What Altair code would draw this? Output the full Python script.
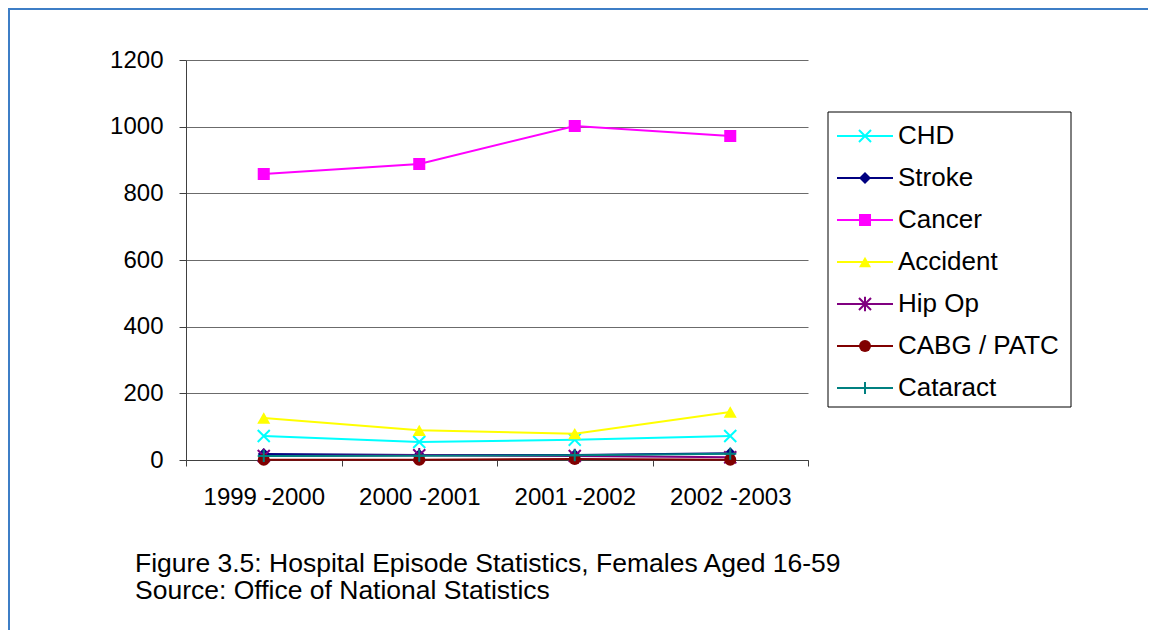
import altair as alt
import pandas as pd

# ---- data ----
periods = ["1999 -2000", "2000 -2001", "2001 -2002", "2002 -2003"]
series = ["CHD", "Stroke", "Cancer", "Accident", "Hip Op", "CABG / PATC", "Cataract"]
chd = [72, 54, 61, 72]
stroke = [18, 15, 15, 20]
cancer = [858, 888, 1002, 972]
accident = [126, 89, 79, 144]
hip_op = [12, 14, 12, 8]
cabg = [1, 1, 3, 1]
cataract = [12, 13, 14, 19]
y_ticks = [0, 200, 400, 600, 800, 1000, 1200]
caption_lines = [
    "Figure 3.5: Hospital Episode Statistics, Females Aged 16-59",
    "Source: Office of National Statistics",
]

# ---- styles ----
colors = ["#00FFFF", "#000080", "#FF00FF", "#FFFF00", "#800080", "#800000", "#008080"]
shapes = [
    "M-1,-1L1,1M-1,1L1,-1",                 # x
    "diamond",
    "square",
    "triangle-up",
    "M-1,-1L1,1M-1,1L1,-1M0,-1.2L0,1.2",    # asterisk
    "circle",
    "M-1,0L1,0M0,-1L0,1",                   # plus
]
filled_series = {"Stroke", "Cancer", "Accident", "CABG / PATC"}
FONT = "Liberation Sans"

values = [chd, stroke, cancer, accident, hip_op, cabg, cataract]
rows = []
for s, vals in zip(series, values):
    for p, v in zip(periods, vals):
        rows.append({"series": s, "period": p, "value": v})
df = pd.DataFrame(rows)

color_enc = alt.Color("series:N", scale=alt.Scale(domain=series, range=colors), legend=None)
shape_enc = alt.Shape("series:N", scale=alt.Scale(domain=series, range=shapes), legend=None)

x_enc = alt.X(
    "period:N", sort=periods,
    scale=alt.Scale(type="band", paddingInner=0, paddingOuter=0),
    axis=alt.Axis(title=None, labelAngle=0, tickBand="extent", tickSize=6,
                  labelFontSize=24, labelFont=FONT, labelColor="black",
                  labelBaseline="alphabetic", labelPadding=38,
                  domainColor="#404040", tickColor="#404040", grid=False),
)
y_enc = alt.Y(
    "value:Q", scale=alt.Scale(domain=[0, 1200], nice=False, zero=True),
    axis=alt.Axis(title=None, values=y_ticks, format="d", grid=True, gridColor="#6b6b6b",
                  gridWidth=1, domainColor="#404040", tickColor="#404040",
                  tickSize=7, labelFontSize=24, labelFont=FONT, labelColor="black",
                  labelPadding=16),
)

main_layers = []
for s in series:
    base = alt.Chart(df).transform_filter(alt.datum.series == s)
    line = base.mark_line(strokeWidth=2).encode(x=x_enc, y=y_enc, color=color_enc)
    f = s in filled_series
    pt = base.mark_point(filled=f, size=170 if s == "Accident" else 145,
                         strokeWidth=2, opacity=1).encode(
        x=x_enc, y=y_enc, color=color_enc, shape=shape_enc)
    main_layers += [line, pt]
main = alt.layer(*main_layers)

# ---- legend ----
leg_df = pd.DataFrame({"series": series, "idx": list(range(len(series)))})
leg_y = alt.Y("idx:Q", scale=alt.Scale(domain=[0, 6], range=[76, 328]), axis=None)
leg_base = alt.Chart(leg_df)
leg_box = alt.Chart(pd.DataFrame({"a": [0]})).mark_rect(
    fill="white", stroke="black", strokeWidth=1).encode(
    x=alt.value(642), x2=alt.value(885), y=alt.value(52), y2=alt.value(347))
leg_rule = leg_base.mark_rule(strokeWidth=2).encode(
    x=alt.value(651), x2=alt.value(707), y=leg_y, color=color_enc)
leg_pt_f = leg_base.transform_filter(
    alt.FieldOneOfPredicate(field="series", oneOf=[s for s in series if s in filled_series])
).mark_point(filled=True, size=145, opacity=1).encode(
    x=alt.value(679), y=leg_y, color=color_enc, shape=shape_enc)
leg_pt_s = leg_base.transform_filter(
    alt.FieldOneOfPredicate(field="series", oneOf=[s for s in series if s not in filled_series])
).mark_point(filled=False, size=145, strokeWidth=2, opacity=1).encode(
    x=alt.value(679), y=leg_y, color=color_enc, shape=shape_enc)
leg_text = leg_base.mark_text(align="left", baseline="middle", fontSize=26,
                              font=FONT, color="black").encode(
    x=alt.value(712), y=leg_y, text="series:N")
legend = alt.layer(leg_box, leg_rule, leg_pt_f, leg_pt_s, leg_text)

# ---- frame and caption ----
one = pd.DataFrame({"a": [0]})
frame = alt.Chart(one).mark_rect(fillOpacity=0, stroke="#3d7ec6", strokeWidth=2).encode(
    x=alt.value(-177), x2=alt.value(1200), y=alt.value(-51), y2=alt.value(800))
caps = []
for i, line_txt in enumerate(caption_lines):
    caps.append(alt.Chart(one).mark_text(align="left", baseline="alphabetic",
                                         fontSize=26.5, font=FONT, color="black").encode(
        x=alt.value(-51), y=alt.value(512 + 27 * i), text=alt.value(line_txt)))

chart = alt.layer(frame, main, legend, *caps).resolve_scale(y="independent").properties(
    width=622, height=400,
    autosize=alt.AutoSizeParams(type="none"),
    padding={"left": 178, "top": 52, "right": 340, "bottom": 170},
    background="white",
).configure_view(strokeWidth=0)

chart.save("out.html", embed_options={"renderer": "svg", "actions": False})
